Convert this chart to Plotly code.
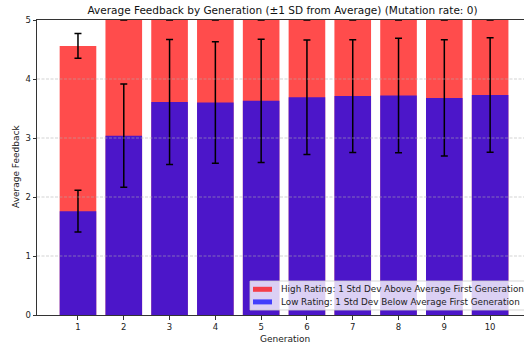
import plotly.graph_objects as go

generations = [1, 2, 3, 4, 5, 6, 7, 8, 9, 10]
high_mean = [4.56, 5.0, 5.0, 5.0, 5.0, 5.0, 5.0, 5.0, 5.0, 5.0]
high_sd = [0.21, 0.0, 0.0, 0.0, 0.0, 0.0, 0.0, 0.0, 0.0, 0.0]
low_mean = [1.76, 3.04, 3.61, 3.60, 3.63, 3.69, 3.71, 3.72, 3.68, 3.73]
low_sd = [0.355, 0.875, 1.06, 1.03, 1.045, 0.97, 0.955, 0.97, 0.985, 0.97]
y_ticks = [0, 1, 2, 3, 4, 5]
series_names = ["High Rating: 1 Std Dev Above Average First Generation",
                "Low Rating: 1 Std Dev Below Average First Generation"]
series_colors = ["rgba(255,0,0,0.7)", "rgba(0,0,255,0.7)"]

FONT = "DejaVu Sans"
W, H = 524, 344
L, R, T, B = 37, 0, 20, 29
PW, PH = W - L - R, H - T - B


def px(x):
    return (x - L) / PW


def py(y):
    return (H - B - y) / PH


fig = go.Figure()
for name, col, ys, err in [(series_names[0], series_colors[0], high_mean, high_sd),
                           (series_names[1], series_colors[1], low_mean, low_sd)]:
    fig.add_trace(go.Bar(
        x=generations, y=ys, width=0.8, name=name, showlegend=False,
        marker=dict(color=col, line=dict(width=0)),
        error_y=dict(type="data", array=err, visible=True, color="black",
                     thickness=1.5, width=3.5),
    ))

shapes = []
for t in y_ticks[1:-1]:
    shapes.append(dict(type="line", xref="paper", yref="y", x0=0, x1=1, y0=t, y1=t,
                       layer="above",
                       line=dict(color="rgba(176,176,176,0.7)", width=0.8, dash="3px,1.5px")))

# custom legend
shapes.append(dict(type="rect", xref="paper", yref="paper", layer="above",
                   x0=px(250), x1=px(530), y0=py(310), y1=py(281),
                   fillcolor="rgba(255,255,255,0.8)",
                   line=dict(color="rgba(204,204,204,0.8)", width=1)))
annotations = []
for i, (name, col) in enumerate(zip(series_names, series_colors)):
    cy = 289.3 + i * 12.6
    shapes.append(dict(type="rect", xref="paper", yref="paper", layer="above",
                       x0=px(253), x1=px(272), y0=py(cy + 2.5), y1=py(cy - 2.5),
                       fillcolor=col, line=dict(width=0)))
    annotations.append(dict(text=name, xref="paper", yref="paper", x=px(279), y=py(cy),
                            xanchor="left", yanchor="middle", showarrow=False,
                            font=dict(family=FONT, size=8.8, color="#222")))

annotations += [
    dict(text="Average Feedback", xref="paper", yref="paper",
         x=px(16), y=py(167), textangle=-90, showarrow=False,
         xanchor="center", yanchor="middle",
         font=dict(family=FONT, size=9, color="#222")),
    dict(text="Generation", xref="paper", yref="paper",
         x=px(284.5), y=py(338.5), showarrow=False,
         xanchor="center", yanchor="middle",
         font=dict(family=FONT, size=9, color="#222")),
]

fig.update_layout(
    width=W, height=H,
    margin=dict(l=L, r=R, t=T, b=B),
    barmode="overlay",
    plot_bgcolor="white", paper_bgcolor="white",
    font=dict(family=FONT, size=9, color="#222"),
    title=dict(text="Average Feedback by Generation (±1 SD from Average) (Mutation rate: 0)",
               x=282.5/W, xanchor="center", xref="container",
               y=1 - 10/H, yanchor="middle", yref="container",
               font=dict(family=FONT, size=10.5, color="#111")),
    xaxis=dict(range=[0.105, 10.74], tickvals=generations, ticks="outside", ticklen=3.5,
               tickcolor="#333", showline=True, linecolor="#333", linewidth=1,
               mirror=True, showgrid=False, zeroline=False,
               tickfont=dict(family=FONT, size=8.5, color="#222")),
    yaxis=dict(range=[0, 5], tickvals=y_ticks, ticks="outside", ticklen=3.5,
               tickcolor="#333", showline=True, linecolor="#333", linewidth=1,
               mirror=False, showgrid=False, zeroline=False,
               tickfont=dict(family=FONT, size=8.5, color="#222")),
    showlegend=False,
    shapes=shapes,
    annotations=annotations,
)

fig.write_html("out.html")
